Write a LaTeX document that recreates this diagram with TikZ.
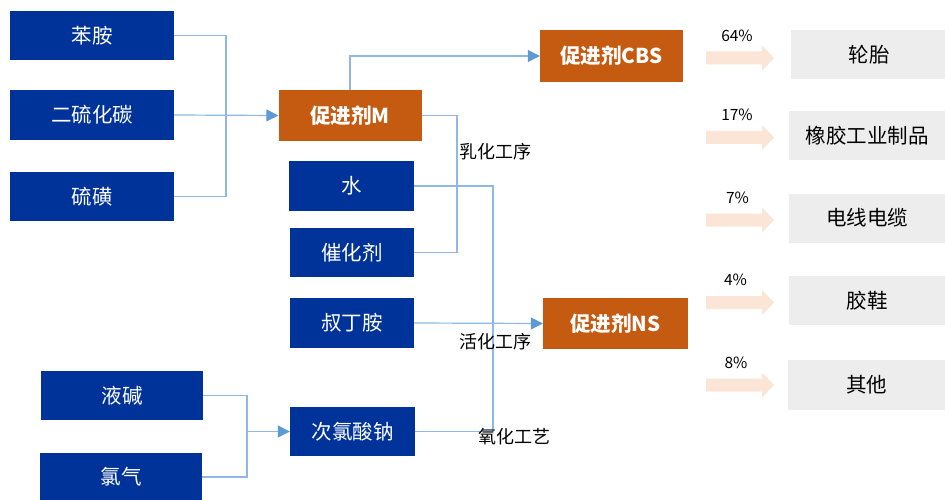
\documentclass[tikz,border=0pt]{standalone}
\usepackage{fontspec}
\setmainfont{Noto Sans CJK SC}
\usetikzlibrary{arrows.meta}
\definecolor{navy}{RGB}{0,51,153}
\definecolor{rust}{RGB}{197,90,17}
\definecolor{lineblue}{RGB}{143,185,228}
\definecolor{headblue}{RGB}{91,155,213}
\definecolor{peach}{RGB}{251,229,214}
\definecolor{lightgray}{RGB}{237,237,237}
\tikzset{
  bluebox/.style={fill=navy,text=white,inner sep=0pt,font=\fontsize{20.5}{24}\selectfont},
  orangebox/.style={fill=rust,text=white,inner sep=0pt,font=\fontsize{20.5}{24}\selectfont\bfseries},
  graybox/.style={fill=lightgray,text=black,inner sep=0pt,font=\fontsize{20.5}{24}\selectfont},
  conn/.style={draw=lineblue,line width=1.2pt},
  arr/.style={conn,-{Triangle[length=12pt,width=12pt,color=headblue,fill=headblue]}},
  steplabel/.style={font=\fontsize{18}{21}\selectfont,text=black,inner sep=0pt},
  pct/.style={font=\fontsize{15.5}{18}\selectfont,text=black,inner sep=0pt},
}
\begin{document}
\begin{tikzpicture}[x=1pt,y=-1pt]
\useasboundingbox[fill=white] (0,0) rectangle (945,500);
% left inputs
\node[bluebox,minimum width=164pt,minimum height=49pt] (benan) at (92,35.5) {苯胺};
\node[bluebox,minimum width=164pt,minimum height=50pt] (cs2) at (92,115) {二硫化碳};
\node[bluebox,minimum width=164pt,minimum height=49pt] (sulfur) at (92,196.5) {硫磺};
% products
\node[orangebox,minimum width=143pt,minimum height=51pt] (M) at (350,115.5) {促进剂M};
\node[orangebox,minimum width=143pt,minimum height=52pt] (CBS) at (611.5,56) {促进剂CBS};
\node[orangebox,minimum width=145pt,minimum height=51pt] (NS) at (615.5,323.5) {促进剂NS};
% middle inputs
\node[bluebox,minimum width=125pt,minimum height=50pt] (water) at (351.5,186) {水};
\node[bluebox,minimum width=124pt,minimum height=49pt] (cat) at (352,252.5) {催化剂};
\node[bluebox,minimum width=124pt,minimum height=50pt] (tba) at (352,323) {叔丁胺};
\node[bluebox,minimum width=125pt,minimum height=49pt] (naclo) at (352.5,431.5) {次氯酸钠};
\node[bluebox,minimum width=162pt,minimum height=49pt] (lye) at (122,395.5) {液碱};
\node[bluebox,minimum width=162pt,minimum height=48pt] (cl2) at (121,477) {氯气};
% junction coordinates
\coordinate (j1) at (226,115);
\coordinate (j2) at (457,185);
\coordinate (j3) at (493,300);
\coordinate (j4) at (247,431.5);
% connectors
\draw[conn] (benan.east) -| (j1) |- (sulfur.east);
\draw[arr] (cs2.east) -- (M.west);
\draw[arr] (M.north) |- (CBS.west);
\draw[conn] (M.east) -| (j2) |- (cat.east);
\draw[conn] (water.east) -| (j3) |- (naclo.east);
\draw[arr] (tba.east) -- (NS.west);
\draw[conn] (lye.east) -| (j4) |- (cl2.east);
\draw[arr] (j4) -- (naclo.west);
% step labels
\node[steplabel] (l1) at (495,152) {乳化工序};
\node[steplabel] (l2) at (495,342) {活化工序};
\node[steplabel] (l3) at (514,437) {氧化工艺};
% application boxes
\node[graybox,minimum width=156pt,minimum height=49pt] (tyre) at (869,54.5) {轮胎};
\node[graybox,minimum width=156pt,minimum height=49pt] (rubber) at (867,135.5) {橡胶工业制品};
\node[graybox,minimum width=156pt,minimum height=49pt] (cable) at (867,218) {电线电缆};
\node[graybox,minimum width=156pt,minimum height=49pt] (shoe) at (867,300.5) {胶鞋};
\node[graybox,minimum width=157pt,minimum height=50pt] (other) at (866.5,384.5) {其他};
% percent arrows
\foreach \y/\p/\px in {58/64\%/737, 137.5/17\%/737, 220/7\%/737.5, 302.5/4\%/735.5, 385/8\%/736}{
  \fill[peach] (706,\y-6.5) -- (762,\y-6.5) -- (762,\y-12.5) -- (774,\y) -- (762,\y+12.5) -- (762,\y+6.5) -- (706,\y+6.5) -- cycle;
  \node[pct] at (\px,\y-22.5) {\p};
}
\end{tikzpicture}
\end{document}
